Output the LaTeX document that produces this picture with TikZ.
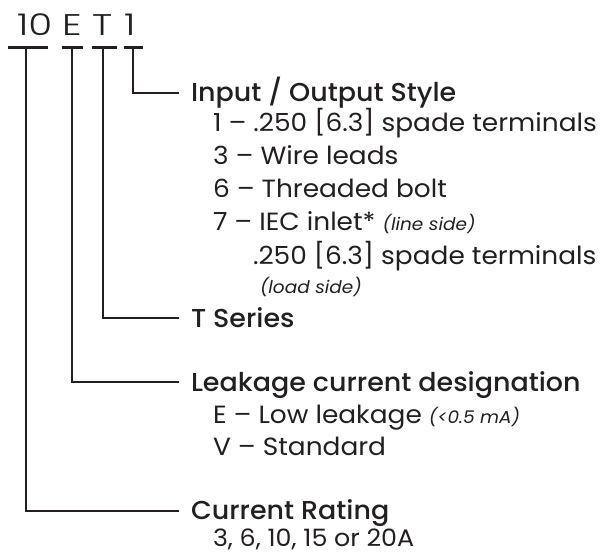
\documentclass[tikz,border=0pt]{standalone}
\usepackage{fontspec}
\setmainfont{Poppins}[FakeStretch=1.06]
\newfontfamily\headfont{Poppins Medium}[FakeStretch=1.04]
\newfontfamily\lightfont{Poppins Light}[FakeStretch=1.3]
\definecolor{ink}{HTML}{231F20}
\tikzset{
  code/.style={anchor=base west, inner sep=0pt, outer sep=0pt, text=ink,
    font=\lightfont\fontsize{30}{30}\selectfont},
  head/.style={anchor=base west, inner sep=0pt, outer sep=0pt, text=ink,
    font=\headfont\fontsize{26}{26}\selectfont},
  item/.style={anchor=base west, inner sep=0pt, outer sep=0pt, text=ink,
    font=\fontsize{25}{25}\selectfont},
  note/.style={anchor=base west, inner sep=0pt, outer sep=0pt, text=ink,
    font=\itshape\fontsize{17.5}{17.5}\selectfont},
  bar/.style={draw=ink, line width=3bp},
  conn/.style={draw=ink, line width=2bp},
}
\newcommand{\smallnote}[1]{{\itshape\fontsize{17.5}{17.5}\selectfont #1}}
\begin{document}
\begin{tikzpicture}[x=1bp,y=-1bp]
\useasboundingbox (0,0) rectangle (603,555);
% code characters
\node[code] (c10) at (17,36) {10};
\node[code] (cE)  at (62,36) {E};
\node[code] (cT)  at (92,36) {T};
\node[code] (c1)  at (124,36) {1};
% bars under characters
\coordinate (b10a) at (8,48);   \coordinate (b10b) at (48,48);
\coordinate (bEa)  at (62,48);  \coordinate (bEb)  at (83,48);
\coordinate (bTa)  at (92,48);  \coordinate (bTb)  at (117,48);
\coordinate (b1a)  at (124,48); \coordinate (b1b)  at (143,48);
\draw[bar] (b10a) -- (b10b);
\draw[bar] (bEa) -- (bEb);
\draw[bar] (bTa) -- (bTb);
\draw[bar] (b1a) -- (b1b);
% connector starts and ends
\coordinate (v10) at (26,48);  \coordinate (e10) at (179,511);
\coordinate (vE)  at (72,48);  \coordinate (eE)  at (179,382);
\coordinate (vT)  at (103,48); \coordinate (eT)  at (179,318);
\coordinate (v1)  at (133,48); \coordinate (e1)  at (179,93);
\draw[conn] (v1) |- (e1);
\draw[conn] (vT) |- (eT);
\draw[conn] (vE) |- (eE);
\draw[conn] (v10) |- (e10);
% Input / Output Style
\node[head] (hIO) at (191,102) {Input / Output Style};
\node[item] (io1) at (213,132) {1 – .250 [6.3] spade terminals};
\node[item] (io3) at (213,165) {3 – Wire leads};
\node[item] (io6) at (213,198) {6 – Threaded bolt};
\node[item] (io7) at (213,231) {7 – IEC inlet* \smallnote{(line side)}};
\node[item] (io7b) at (253,264) {.250 [6.3] spade terminals};
\node[note] (io7c) at (260,293) {(load side)};
% T Series
\node[head] (hT) at (191,327) {T Series};
% Leakage
\node[head] (hL) at (191,391) {Leakage current designation};
\node[item] (lE) at (213,423) {E – Low leakage \smallnote{(<0.5 mA)}};
\node[item] (lV) at (213,455) {V – Standard};
% Current rating
\node[head] (hC) at (191,519) {Current Rating};
\node[item, font=\fontsize{24}{24}\selectfont] (cr) at (213,546) {3, 6, 10, 15 or 20A};
\end{tikzpicture}
\end{document}
